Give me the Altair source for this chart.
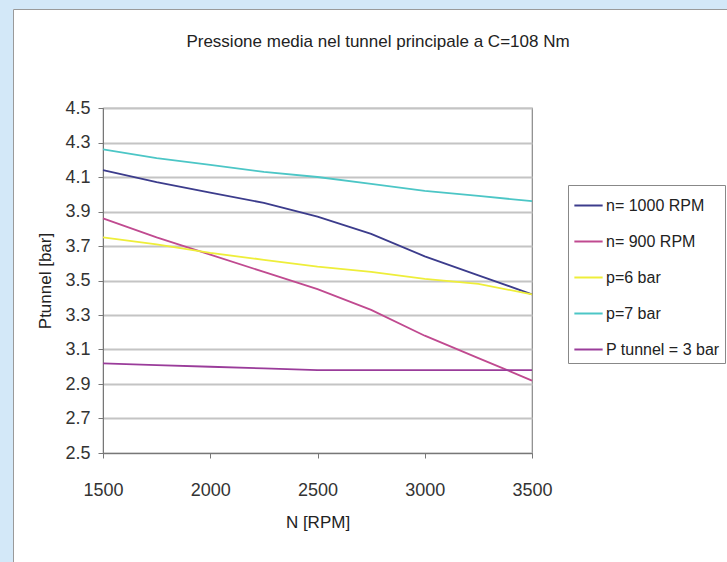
import altair as alt
import pandas as pd

rpm = [1500, 1750, 2000, 2250, 2500, 2750, 3000, 3250, 3500]
n1000 = [4.14, 4.07, 4.01, 3.95, 3.87, 3.77, 3.64, 3.53, 3.42]
n900 = [3.86, 3.75, 3.65, 3.55, 3.45, 3.33, 3.18, 3.05, 2.92]
p6 = [3.75, 3.71, 3.66, 3.62, 3.58, 3.55, 3.51, 3.48, 3.42]
p7 = [4.26, 4.21, 4.17, 4.13, 4.10, 4.06, 4.02, 3.99, 3.96]
ptun = [3.02, 3.01, 3.00, 2.99, 2.98, 2.98, 2.98, 2.98, 2.98]

series_names = ["n= 1000 RPM", "n= 900 RPM", "p=6 bar", "p=7 bar", "P tunnel = 3 bar"]
series_vals = [n1000, n900, p6, p7, ptun]
colors = ["#3c3c8c", "#c04a90", "#eeee3a", "#4cc6c6", "#9a3c9a"]
y_ticks = [2.5, 2.7, 2.9, 3.1, 3.3, 3.5, 3.7, 3.9, 4.1, 4.3, 4.5]
x_ticks = [1500, 2000, 2500, 3000, 3500]
title_text = ["Pressione media nel tunnel principale a C=108 Nm"]

rows = []
for name, vals in zip(series_names, series_vals):
    for x, v in zip(rpm, vals):
        rows.append({"N": x, "P": v, "serie": name})
df = pd.DataFrame(rows)

FONT = "Liberation Sans Narrow, Liberation Sans, Arial"

deco = pd.DataFrame({"k": [0]})
left_strip = alt.Chart(deco).mark_rect(color="#d3e8f8").encode(
    x=alt.value(-103), x2=alt.value(-90), y=alt.value(-108), y2=alt.value(460)
)
top_strip = alt.Chart(deco).mark_rect(color="#d3e8f8").encode(
    x=alt.value(-103), x2=alt.value(630), y=alt.value(-108), y2=alt.value(-99)
)
border = alt.Chart(deco).mark_rect(fill=None, stroke="#9a9a9a", strokeWidth=1).encode(
    x=alt.value(-89.5), x2=alt.value(640), y=alt.value(-98.5), y2=alt.value(470)
)
title = alt.Chart(pd.DataFrame({"t": title_text})).mark_text(
    font=FONT, fontSize=17, color="#222", align="center", baseline="middle"
).encode(text="t:N", x=alt.value(275), y=alt.value(-66))

lines = alt.Chart(df).mark_line(strokeWidth=1.8).encode(
    x=alt.X("N:Q", scale=alt.Scale(domain=[1500, 3500], nice=False),
            axis=alt.Axis(values=x_ticks, title="N [RPM]", grid=False, format="d",
                          labelFlush=False, labelPadding=23, tickSize=5, titlePadding=15)),
    y=alt.Y("P:Q", scale=alt.Scale(domain=[2.5, 4.5], nice=False, zero=False),
            axis=alt.Axis(values=y_ticks, title="Ptunnel [bar]", format=".1f",
                          labelFlush=False, labelPadding=8, tickSize=5, titlePadding=10)),
    color=alt.Color("serie:N", sort=series_names,
                    scale=alt.Scale(domain=series_names, range=colors),
                    legend=alt.Legend(title=None, orient="none", legendX=465, legendY=77,
                                      symbolType="stroke", symbolSize=800, symbolStrokeWidth=2,
                                      labelFontSize=16, labelFont=FONT, labelColor="#222",
                                      labelOffset=2, rowPadding=12, padding=5,
                                      fillColor="white", strokeColor="#888",
                                      labelLimit=300)),
    order=alt.Order("N:Q"),
)

chart = alt.layer(left_strip, top_strip, border, title, lines).properties(
    width=429, height=345,
    autosize=alt.AutoSizeParams(type="none"),
    padding={"left": 103, "top": 108, "right": 195, "bottom": 109},
    background="white",
).configure_view(stroke="#888", strokeWidth=1.2).configure_axis(
    labelFont=FONT, titleFont=FONT, labelFontSize=18, titleFontSize=17,
    titleFontWeight="normal", labelColor="#333", titleColor="#222",
    domainColor="#777", tickColor="#777", gridColor="#c4c4c4", gridWidth=2,
)

chart.save("out.html", embed_options={"renderer": "svg", "actions": False})
